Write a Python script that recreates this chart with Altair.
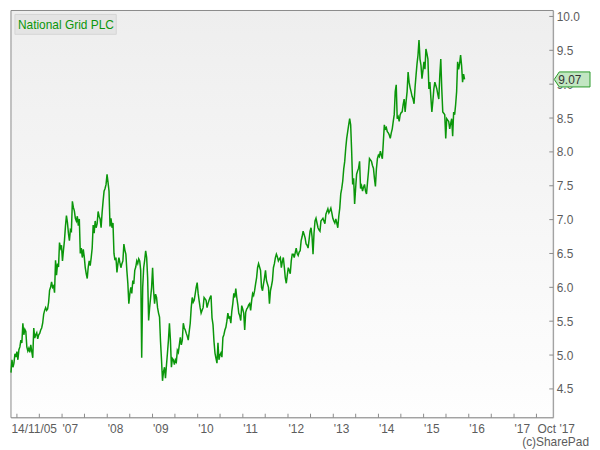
import altair as alt
import pandas as pd

# ---------------- data ----------------
# National Grid PLC share price, one reading roughly every 8 days
prices_2005_2007 = [
    4.74, 4.93, 4.82, 4.88, 5.02, 4.97, 5.05, 4.93, 5.08, 5.12,
    5.22, 5.18, 5.47, 5.30, 5.38, 5.35, 5.12, 5.06, 5.10, 5.04,
    5.15, 5.05, 4.96, 5.40, 5.25, 5.30, 5.33, 5.24, 5.30, 5.32,
    5.37, 5.40, 5.47, 5.60, 5.66, 5.70, 5.66, 5.68, 5.78, 5.96,
    6.00, 6.08, 6.00, 6.02, 5.92, 6.40, 6.18, 6.35, 6.30, 6.66,
    6.58, 6.62, 6.39, 6.55, 6.69, 6.90, 7.06, 6.96, 6.80, 6.69,
    6.85, 6.83, 7.27, 7.18, 7.13, 7.02, 6.98, 7.05, 6.91, 7.01,
    6.50, 6.58, 6.44, 6.56, 6.45, 6.29, 6.20, 6.13, 6.30, 6.39,
    6.32, 6.44, 6.58, 6.92, 6.80, 6.98, 6.88, 6.94, 7.12, 7.05,
]
prices_2008_2009 = [
    7.01, 6.88, 7.10, 7.27, 7.42, 7.46, 7.52, 7.67, 7.55, 7.42,
    6.90, 7.02, 6.88, 6.95, 6.50, 6.40, 6.44, 6.22, 6.35, 6.44,
    6.36, 6.29, 6.35, 6.39, 6.64, 6.55, 6.49, 6.25, 6.06, 5.76,
    5.90, 6.00, 5.91, 6.10, 6.05, 6.25, 6.30, 6.39, 6.35, 6.42,
    6.39, 6.25, 4.96, 6.00, 6.29, 6.40, 6.54, 6.44, 6.14, 5.51,
    5.70, 5.85, 6.00, 6.29, 5.95, 5.76, 5.90, 5.85, 5.70, 5.62,
    5.56, 5.20, 4.93, 4.62, 4.75, 4.82, 4.66, 4.85, 5.03, 5.22,
    5.47, 5.22, 4.82, 4.95, 4.93, 4.86, 4.93, 4.90, 5.07, 5.04,
    5.15, 5.26, 5.15, 5.22, 5.47, 5.40, 5.37, 5.32, 5.28, 5.22,
    5.35, 5.47, 5.70, 5.85, 5.78, 5.81, 5.90, 6.00, 6.07, 5.91,
]
prices_2010_2011 = [
    5.80, 5.70, 5.62, 5.66, 5.70, 5.85, 5.83, 5.81, 5.70, 5.76,
    5.81, 5.85, 5.88, 5.55, 5.45, 5.20, 5.03, 4.95, 4.88, 5.18,
    4.93, 5.00, 5.03, 4.97, 5.26, 5.30, 5.37, 5.41, 5.50, 5.62,
    5.55, 5.56, 5.47, 5.65, 5.76, 5.91, 5.85, 5.98, 5.85, 5.75,
    5.62, 5.58, 5.51, 5.73, 5.68, 5.62, 5.37, 5.63, 5.68, 5.70,
    5.74, 5.76, 5.66, 5.80, 5.91, 5.88, 5.95, 6.05, 6.14, 6.29,
    6.35, 6.30, 6.25, 6.00, 5.95, 6.05, 6.14, 6.25, 6.10, 6.05,
    6.00, 5.76, 5.95, 6.02, 6.10, 6.29, 6.35, 6.44, 6.49, 6.45,
    6.39, 6.42, 6.44, 6.29, 6.38, 6.44, 6.30, 6.14, 6.06, 6.18,
]
prices_2012_2013 = [
    6.29, 6.25, 6.20, 6.39, 6.49, 6.49, 6.44, 6.51, 6.58, 6.50,
    6.47, 6.52, 6.54, 6.69, 6.75, 6.83, 6.78, 6.73, 6.64, 6.62,
    6.58, 6.70, 6.83, 6.88, 6.75, 6.49, 6.80, 6.98, 7.02, 6.95,
    6.88, 6.85, 6.83, 6.98, 7.00, 7.02, 6.98, 6.94, 7.08, 7.12,
    7.16, 7.10, 7.13, 7.17, 7.10, 7.02, 6.98, 6.95, 7.01, 6.95,
    6.88, 7.05, 7.17, 7.38, 7.46, 7.57, 7.75, 7.86, 8.05, 8.20,
    8.30, 8.40, 8.49, 8.40, 8.01, 7.52, 7.61, 7.23, 7.46, 7.67,
    7.72, 7.76, 7.86, 7.46, 7.50, 7.42, 7.48, 7.52, 7.42, 7.38,
    7.55, 7.71, 7.90, 7.88, 7.86, 7.80, 7.76, 7.61, 7.49, 7.75,
]
prices_2014_2015 = [
    7.90, 7.95, 7.93, 8.01, 7.95, 7.90, 8.15, 8.40, 8.34, 8.36,
    8.30, 8.28, 8.25, 8.20, 8.28, 8.34, 8.45, 8.55, 8.89, 8.99,
    8.49, 8.52, 8.45, 8.55, 8.58, 8.59, 8.70, 8.78, 8.59, 8.75,
    8.89, 9.18, 9.03, 8.95, 8.89, 8.82, 8.78, 8.71, 8.95, 9.13,
    9.30, 9.43, 9.65, 9.37, 9.28, 9.08, 9.20, 9.33, 9.22, 9.52,
    9.45, 9.37, 8.93, 9.03, 8.80, 8.59, 8.75, 8.93, 9.03, 8.98,
    8.93, 8.85, 8.78, 9.13, 9.37, 8.93, 8.59, 8.57, 8.55, 8.20,
    8.49, 8.47, 8.45, 8.34, 8.42, 8.49, 8.23, 8.59, 8.55, 8.70,
    8.89, 9.33, 9.22, 9.30, 9.43, 9.28, 9.03, 9.15, 9.07,
]
first_date = "2005-11-14"
last_date = "2015-11-28"
last_price = [9.07]
series_name = ["National Grid PLC"]
x_start, x_end = "2005-11-14", "2017-11-14"
y_ticks = [4.5, 5.0, 5.5, 6.0, 6.5, 7.0, 7.5, 8.0, 8.5, 9.0, 9.5, 10.0]
label_years = list(range(2007, 2018))
tick_dates = [f"{y}-{m:02d}-01" for y in range(2006, 2018) for m in (1, 7)]

# ---------------- build table ----------------
prices = prices_2005_2007 + prices_2008_2009 + prices_2010_2011 + prices_2012_2013 + prices_2014_2015
dates = pd.date_range(first_date, last_date, periods=len(prices))
df = pd.DataFrame({"date": dates.strftime("%Y-%m-%dT%H:%M:%S"), "price": prices})


def ms(s):
    return int(pd.Timestamp(s).value // 10**6)


W, H = 546, 410
GREEN = "#0a960a"
LABEL = "#5c5c5c"
FONT = "Liberation Sans"

axis_values = [ms(x_start)] + [ms(f"{y}-01-01") for y in label_years]

x_enc = alt.X(
    "date:T",
    scale=alt.Scale(type="utc", domain=[ms(x_start), ms(x_end)]),
    axis=alt.Axis(
        values=axis_values,
        labelExpr="utcyear(datum.value) == 2005 ? '14/11/05' : \"'\" + utcFormat(datum.value, '%y')",
        labelAlign="left",
        labelFlush=False,
        labelOverlap=False,
        labelPadding=6,
        labelFontSize=12,
        labelColor=LABEL,
        labelFont=FONT,
        ticks=False,
        domain=False,
        grid=False,
        title=None,
        zindex=0,
    ),
)
y_enc = alt.Y(
    "price:Q",
    scale=alt.Scale(domain=[4.075, 10.088], nice=False, zero=False),
    axis=alt.Axis(
        orient="right",
        values=y_ticks,
        format=".1f",
        labelPadding=3,
        labelFontSize=12,
        labelColor=LABEL,
        labelFont=FONT,
        ticks=False,
        domain=False,
        grid=False,
        title=None,
        zindex=0,
    ),
)

one = pd.DataFrame({"a": [0]})

background = alt.Chart(one).mark_rect(
    fill=alt.LinearGradient(
        gradient="linear",
        x1=0, y1=0, x2=0, y2=1,
        stops=[alt.GradientStop(offset=0, color="#eeeeee"),
               alt.GradientStop(offset=1, color="#fefefe")],
    ),
    stroke="#8a8a8a",
    strokeWidth=1,
).encode(x=alt.value(0), x2=alt.value(W), y=alt.value(0), y2=alt.value(H))

legend_box = alt.Chart(one).mark_rect(
    fill="#e4e4e4", stroke="#d6d6d6", strokeWidth=1
).encode(x=alt.value(4), x2=alt.value(106), y=alt.value(4), y2=alt.value(24))

legend_text = alt.Chart(pd.DataFrame({"t": series_name})).mark_text(
    align="left", baseline="middle", fontSize=12, font=FONT, color=GREEN
).encode(x=alt.value(7), y=alt.value(14.5), text="t:N")

line = alt.Chart(df).mark_line(color=GREEN, strokeWidth=1.5).encode(x=x_enc, y=y_enc)

x_ticks = alt.Chart(pd.DataFrame({"date": tick_dates})).mark_rule(
    color="#8a8a8a", strokeWidth=1
).encode(x=x_enc, y=alt.value(H - 4), y2=alt.value(H))

y_tick_marks = alt.Chart(pd.DataFrame({"price": y_ticks})).mark_rule(
    color="#8a8a8a", strokeWidth=1
).encode(y=y_enc, x=alt.value(W - 4), x2=alt.value(W))

tag_shape = "M-1,0L-0.72,-0.42L1,-0.42L1,0.42L-0.72,0.42Z"
tag = alt.Chart(pd.DataFrame({"price": last_price})).mark_point(
    shape=tag_shape, size=1296, filled=True, fill="#c2e6c2", stroke="#2a9a2a",
    strokeWidth=1, opacity=1,
).encode(x=alt.value(W + 19), y=y_enc)

tag_text = alt.Chart(pd.DataFrame({"price": last_price, "t": ["9.07"]})).mark_text(
    align="left", baseline="middle", fontSize=12, font=FONT, color="#333333", dy=1
).encode(x=alt.value(W + 5), y=y_enc, text="t:N")

end_label = alt.Chart(pd.DataFrame({"date": [x_end], "t": ["Oct '17"]})).mark_text(
    align="center", baseline="top", fontSize=12, font=FONT, color=LABEL, dx=3
).encode(x=x_enc, y=alt.value(H + 6), text="t:N")

credit = alt.Chart(pd.DataFrame({"t": ["(c)SharePad"]})).mark_text(
    align="right", baseline="alphabetic", fontSize=12, font=FONT, color=LABEL
).encode(x=alt.value(582), y=alt.value(H + 28), text="t:N")

chart = alt.layer(
    background, legend_box, legend_text, line, x_ticks, y_tick_marks,
    tag, tag_text, end_label, credit,
).properties(width=W, height=H, padding=0).configure_view(stroke=None).configure(font=FONT)

chart.save("out.html", embed_options={"renderer": "svg", "actions": False})
